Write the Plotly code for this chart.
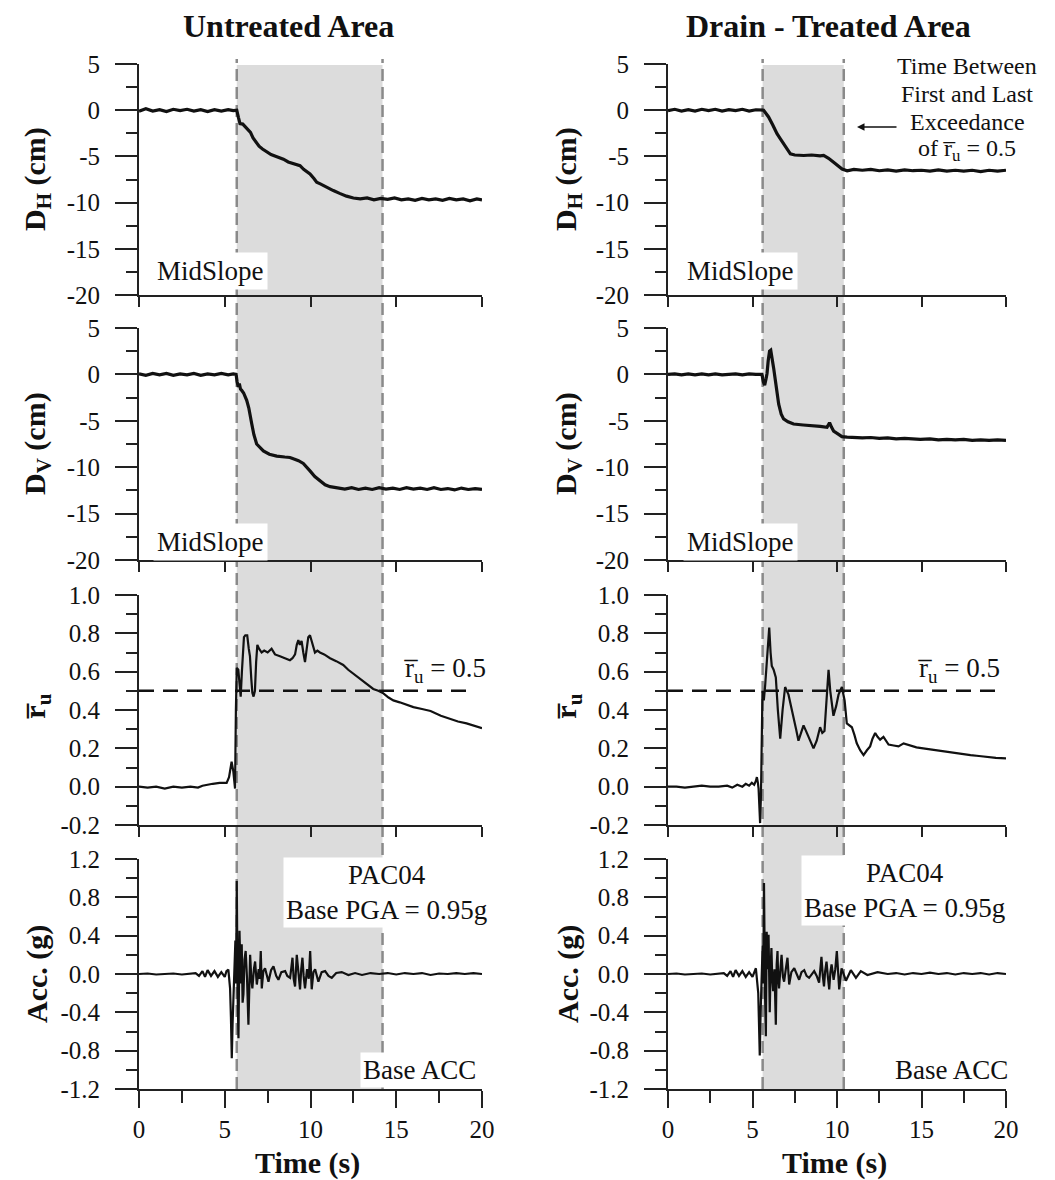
import plotly.graph_objects as go

# ---------------- data ----------------
panel_titles = ["Untreated Area", "Drain - Treated Area"]
x_ticks = [0, 5, 10, 15, 20]

# time between first and last exceedance of ru = 0.5  (start, end)
exceed_untreated = (5.7, 14.2)
exceed_treated = (5.6, 10.4)
ru_threshold = 0.5

dh_untreated = [(0, -0.1), (0.4, 0.15), (0.8, -0.1), (1.2, 0.05), (1.6, -0.15), (2.0, 0.1), (2.4, -0.05),
                (2.8, 0.1), (3.2, -0.1), (3.6, 0.05), (4.0, -0.15), (4.4, 0.05), (4.8, -0.1), (5.2, 0.05),
                (5.5, -0.05), (5.7, 0.0), (5.8, -0.8), (5.89, -1.45), (6.05, -1.5), (6.2, -1.8), (6.38, -2.2),
                (6.5, -2.4), (6.65, -3.0), (6.86, -3.6), (7.0, -3.9), (7.2, -4.2), (7.45, -4.5), (7.7, -4.8),
                (8.0, -5.0), (8.42, -5.3), (8.7, -5.6), (9.0, -5.8), (9.39, -6.0), (9.6, -6.4), (9.8, -6.7),
                (9.97, -6.9), (10.2, -7.4), (10.36, -7.8), (10.6, -8.0), (11.0, -8.4), (11.33, -8.7),
                (11.7, -9.0), (12.1, -9.3), (12.5, -9.5), (12.9, -9.6), (13.3, -9.5), (13.7, -9.7),
                (14.1, -9.55), (14.5, -9.65), (14.9, -9.5), (15.3, -9.7), (15.7, -9.6), (16.1, -9.75),
                (16.5, -9.55), (16.9, -9.7), (17.3, -9.6), (17.7, -9.75), (18.1, -9.55), (18.5, -9.7),
                (18.9, -9.6), (19.3, -9.8), (19.7, -9.6), (20.0, -9.7)]

dv_untreated = [(0, 0.05), (0.4, -0.1), (0.8, 0.1), (1.2, -0.05), (1.6, 0.1), (2.0, -0.1), (2.4, 0.05),
                (2.8, -0.05), (3.2, 0.1), (3.6, -0.1), (4.0, 0.05), (4.4, -0.05), (4.8, 0.1), (5.2, -0.05),
                (5.5, 0.05), (5.66, 0.0), (5.72, -0.8), (5.79, -1.35), (5.85, -1.0), (5.92, -1.6),
                (5.98, -1.7), (6.1, -2.0), (6.28, -2.8), (6.4, -3.6), (6.57, -5.3), (6.7, -6.5),
                (6.86, -7.5), (7.05, -7.9), (7.25, -8.25), (7.6, -8.6), (8.03, -8.8), (8.5, -8.9),
                (8.8, -8.95), (9.0, -9.1), (9.3, -9.3), (9.58, -9.6), (9.8, -10.0), (9.97, -10.4),
                (10.25, -11.0), (10.55, -11.5), (10.85, -11.9), (11.14, -12.1), (11.6, -12.2),
                (12.0, -12.35), (12.4, -12.2), (12.8, -12.4), (13.2, -12.25), (13.6, -12.4), (14.0, -12.2),
                (14.4, -12.35), (14.8, -12.25), (15.2, -12.4), (15.6, -12.2), (16.0, -12.35),
                (16.4, -12.25), (16.8, -12.4), (17.2, -12.2), (17.6, -12.4), (18.0, -12.3), (18.4, -12.45),
                (18.8, -12.25), (19.2, -12.4), (19.6, -12.3), (20.0, -12.4)]

ru_untreated = [(0, 0.0), (0.5, -0.005), (1.0, 0.0), (1.5, -0.01), (2.0, 0.0), (2.5, -0.005), (3.0, 0.0),
                (3.44, -0.005), (3.7, 0.005), (3.95, 0.01), (4.3, 0.015), (4.7, 0.02), (5.11, 0.02),
                (5.25, 0.05), (5.4, 0.13), (5.5, 0.08), (5.6, -0.01), (5.65, 0.4), (5.7, 0.62),
                (5.79, 0.61), (5.86, 0.55), (5.93, 0.47), (6.0, 0.6), (6.12, 0.78), (6.2, 0.79),
                (6.31, 0.79), (6.4, 0.72), (6.47, 0.68), (6.55, 0.56), (6.61, 0.49), (6.68, 0.47),
                (6.76, 0.5), (6.83, 0.65), (6.9, 0.74), (7.0, 0.72), (7.15, 0.70), (7.3, 0.71),
                (7.5, 0.70), (7.73, 0.72), (7.93, 0.69), (8.22, 0.68), (8.5, 0.67), (8.8, 0.66),
                (8.95, 0.67), (9.1, 0.69), (9.2, 0.74), (9.29, 0.765), (9.38, 0.74), (9.48, 0.76),
                (9.58, 0.70), (9.68, 0.65), (9.78, 0.72), (9.87, 0.78), (9.97, 0.79), (10.07, 0.76),
                (10.17, 0.72), (10.26, 0.70), (10.4, 0.71), (10.55, 0.70), (10.8, 0.69), (11.14, 0.67),
                (11.5, 0.655), (11.91, 0.635), (12.2, 0.61), (12.5, 0.59), (12.8, 0.57), (13.08, 0.55),
                (13.4, 0.53), (13.66, 0.51), (13.95, 0.50), (14.25, 0.487), (14.55, 0.465), (14.83, 0.45),
                (15.2, 0.44), (15.6, 0.426), (16.0, 0.415), (16.5, 0.405), (17.0, 0.395), (17.6, 0.37),
                (18.1, 0.355), (18.6, 0.34), (19.1, 0.33), (19.5, 0.32), (20.0, 0.305)]

acc_untreated = [(0, 0.0), (0.5, 0.005), (1.0, -0.005), (1.5, 0.0), (2.0, 0.005), (2.5, -0.005), (3.0, 0.0),
                 (3.3, 0.01), (3.5, -0.02), (3.7, 0.03), (3.85, -0.03), (4.0, 0.04), (4.2, -0.02),
                 (4.4, 0.03), (4.6, -0.03), (4.8, 0.02), (5.0, -0.03), (5.1, 0.03), (5.21, 0.045),
                 (5.31, -0.15), (5.36, -0.45), (5.41, -0.88), (5.46, -0.5), (5.51, -0.15), (5.56, 0.1),
                 (5.62, 0.35), (5.66, -0.1), (5.70, 0.97), (5.75, -0.2), (5.80, -0.67), (5.86, 0.45),
                 (5.93, -0.1), (5.99, 0.31), (6.04, -0.3), (6.09, -0.21), (6.15, 0.15), (6.22, 0.24),
                 (6.3, -0.05), (6.38, -0.53), (6.43, 0.1), (6.48, 0.2), (6.55, -0.05), (6.61, -0.15),
                 (6.7, 0.05), (6.77, 0.13), (6.87, -0.11), (6.98, 0.05), (7.04, -0.05), (7.10, 0.24),
                 (7.16, -0.15), (7.25, 0.03), (7.35, 0.06), (7.45, -0.03), (7.55, -0.08), (7.7, 0.04),
                 (7.84, 0.08), (8.0, -0.02), (8.13, -0.06), (8.3, 0.02), (8.52, 0.03), (8.65, -0.02),
                 (8.81, -0.04), (8.88, 0.06), (8.95, 0.17), (9.02, -0.05), (9.1, -0.13), (9.2, 0.2),
                 (9.3, 0.0), (9.39, -0.16), (9.46, 0.05), (9.53, 0.17), (9.6, -0.02), (9.68, -0.15),
                 (9.8, 0.05), (9.9, -0.05), (9.98, 0.24), (10.07, -0.16), (10.17, 0.02), (10.27, 0.05),
                 (10.46, -0.08), (10.65, 0.02), (10.85, 0.03), (11.05, -0.02), (11.24, -0.04), (11.5, 0.01),
                 (11.82, 0.02), (12.21, -0.01), (12.6, 0.01), (13.0, -0.01), (13.5, 0.01), (14.0, 0.0),
                 (14.5, 0.01), (15.0, -0.005), (15.5, 0.01), (16.0, 0.0), (16.5, 0.01), (17.0, -0.01),
                 (17.5, 0.005), (18.0, 0.0), (18.5, 0.01), (19.0, 0.0), (19.5, 0.01), (20.0, 0.0)]

dh_treated = [(0, -0.05), (0.4, 0.1), (0.8, -0.1), (1.2, 0.05), (1.6, -0.1), (2.0, 0.1), (2.4, -0.05),
              (2.8, 0.1), (3.2, -0.1), (3.6, 0.05), (4.0, -0.05), (4.4, 0.1), (4.8, -0.1), (5.2, 0.05),
              (5.66, 0.0), (5.8, -0.3), (5.95, -0.73), (6.2, -1.6), (6.45, -2.55), (6.65, -3.1),
              (6.84, -3.64), (7.05, -4.3), (7.24, -4.73), (7.5, -4.85), (8.03, -4.9), (8.5, -4.85),
              (9.0, -4.95), (9.21, -4.9), (9.5, -5.2), (9.8, -5.64), (10.0, -5.9), (10.3, -6.36),
              (10.6, -6.55), (11.0, -6.4), (11.5, -6.5), (12.0, -6.4), (12.5, -6.55), (13.0, -6.45),
              (13.5, -6.6), (14.0, -6.45), (14.5, -6.55), (15.0, -6.5), (15.5, -6.6), (16.0, -6.45),
              (16.5, -6.6), (17.0, -6.5), (17.5, -6.6), (18.0, -6.5), (18.5, -6.65), (19.0, -6.5),
              (19.5, -6.6), (20.0, -6.5)]

dv_treated = [(0, 0.0), (0.4, 0.05), (0.8, -0.05), (1.2, 0.05), (1.6, -0.05), (2.0, 0.05), (2.4, -0.05),
              (2.8, 0.05), (3.2, -0.05), (3.6, 0.0), (4.0, 0.05), (4.4, -0.05), (4.8, 0.05), (5.2, 0.0),
              (5.56, 0.0), (5.64, -0.8), (5.72, -1.16), (5.8, -0.5), (5.86, 0.1), (5.93, 1.5),
              (6.01, 2.5), (6.08, 2.6), (6.15, 1.9), (6.25, 0.7), (6.35, -0.6), (6.45, -2.0),
              (6.55, -3.2), (6.7, -4.3), (6.84, -4.8), (7.1, -5.1), (7.43, -5.35), (8.0, -5.45),
              (8.62, -5.5), (9.0, -5.6), (9.41, -5.7), (9.56, -5.2), (9.68, -5.7), (9.8, -6.1),
              (10.05, -6.4), (10.29, -6.7), (10.6, -6.75), (10.98, -6.8), (11.5, -6.85), (12.0, -6.8),
              (12.5, -6.9), (13.0, -6.85), (13.5, -6.95), (14.0, -6.9), (14.93, -7.0), (15.5, -6.95),
              (16.0, -7.05), (16.5, -7.0), (17.0, -7.05), (17.5, -7.0), (18.0, -7.1), (18.5, -7.05),
              (19.0, -7.1), (19.5, -7.05), (20.0, -7.1)]

ru_treated = [(0, 0.0), (0.5, 0.0), (1.0, -0.005), (1.5, 0.0), (2.0, 0.005), (2.5, 0.0), (3.0, 0.0),
              (3.5, 0.005), (3.8, -0.005), (4.1, 0.01), (4.4, 0.0), (4.6, 0.015), (4.8, 0.005),
              (4.96, 0.02), (5.1, 0.01), (5.2, 0.03), (5.26, 0.05), (5.32, 0.02), (5.36, -0.01),
              (5.45, -0.19), (5.5, -0.05), (5.59, 0.5), (5.67, 0.45), (5.75, 0.53), (5.85, 0.65),
              (5.99, 0.83), (6.07, 0.7), (6.14, 0.63), (6.25, 0.61), (6.38, 0.57), (6.5, 0.4),
              (6.64, 0.25), (6.78, 0.4), (6.93, 0.52), (7.03, 0.5), (7.13, 0.48), (7.28, 0.42),
              (7.43, 0.35), (7.58, 0.3), (7.72, 0.24), (7.87, 0.28), (8.02, 0.32), (8.17, 0.29),
              (8.31, 0.26), (8.46, 0.23), (8.61, 0.2), (8.8, 0.24), (9.0, 0.31), (9.13, 0.28),
              (9.26, 0.29), (9.38, 0.45), (9.5, 0.61), (9.6, 0.5), (9.79, 0.37), (9.95, 0.42),
              (10.09, 0.48), (10.29, 0.52), (10.45, 0.45), (10.58, 0.33), (10.73, 0.32), (10.88, 0.31),
              (11.03, 0.27), (11.17, 0.226), (11.37, 0.19), (11.57, 0.165), (11.77, 0.19), (11.96, 0.21),
              (12.1, 0.25), (12.26, 0.28), (12.4, 0.26), (12.55, 0.245), (12.75, 0.26), (13.05, 0.22),
              (13.35, 0.215), (13.64, 0.21), (13.94, 0.226), (14.3, 0.215), (14.7, 0.205), (15.1, 0.2),
              (15.5, 0.195), (15.9, 0.19), (16.4, 0.18), (16.9, 0.175), (17.4, 0.17), (17.9, 0.165),
              (18.4, 0.16), (18.9, 0.155), (19.4, 0.15), (20.0, 0.148)]

acc_treated = [(0, 0.0), (0.5, 0.005), (1.0, -0.005), (1.5, 0.0), (2.0, 0.005), (2.5, -0.005), (3.0, 0.0),
               (3.3, 0.01), (3.5, -0.02), (3.7, 0.03), (3.85, -0.03), (4.0, 0.04), (4.2, -0.02),
               (4.4, 0.03), (4.6, -0.03), (4.8, 0.02), (5.0, -0.03), (5.2, 0.06), (5.34, -0.2),
               (5.38, -0.5), (5.43, -0.85), (5.48, -0.4), (5.53, -0.07), (5.6, 0.3), (5.64, -0.1),
               (5.68, 0.95), (5.74, -0.2), (5.79, -0.65), (5.84, 0.44), (5.9, 0.05), (5.95, 0.41),
               (6.02, -0.4), (6.07, 0.05), (6.12, 0.27), (6.17, -0.05), (6.22, -0.18), (6.3, 0.05),
               (6.38, -0.53), (6.43, 0.1), (6.48, 0.24), (6.52, -0.05), (6.57, -0.15), (6.65, 0.05),
               (6.72, 0.2), (6.8, -0.03), (6.87, -0.08), (6.97, 0.05), (7.07, 0.17), (7.17, -0.11),
               (7.3, 0.02), (7.47, 0.06), (7.65, -0.02), (7.76, -0.06), (7.9, 0.02), (8.06, 0.04),
               (8.2, -0.02), (8.35, -0.04), (8.65, 0.03), (8.8, -0.02), (8.94, -0.09), (9.01, 0.05),
               (9.08, 0.18), (9.16, -0.02), (9.23, -0.13), (9.3, 0.03), (9.38, 0.13), (9.46, -0.03),
               (9.54, -0.16), (9.61, 0.02), (9.68, 0.1), (9.8, -0.06), (9.9, 0.05), (9.99, 0.24),
               (10.06, -0.02), (10.13, -0.16), (10.27, 0.06), (10.53, -0.07), (10.82, 0.04),
               (11.12, -0.04), (11.41, 0.03), (11.8, -0.01), (12.4, 0.02), (13.0, 0.0), (13.5, 0.01),
               (14.0, -0.005), (14.5, 0.01), (15.0, 0.0), (15.5, 0.015), (16.0, 0.0), (16.5, 0.01),
               (17.0, -0.005), (17.5, 0.01), (18.0, 0.0), (18.5, 0.01), (19.0, -0.005), (19.5, 0.01),
               (20.0, 0.0)]

# y-axis tick definitions per row
disp_ticks = [-20, -15, -10, -5, 0, 5]
disp_labels = ["-20", "-15", "-10", "-5", "0", "5"]
disp_minor = [-17.5, -12.5, -7.5, -2.5, 2.5]
ru_ticks = [-0.2, 0.0, 0.2, 0.4, 0.6, 0.8, 1.0]
ru_labels = ["-0.2", "0.0", "0.2", "0.4", "0.6", "0.8", "1.0"]
ru_minor = [-0.1, 0.1, 0.3, 0.5, 0.7, 0.9]
acc_ticks = [-1.2, -0.8, -0.4, 0.0, 0.4, 0.8, 1.2]
acc_labels = ["-1.2", "-0.8", "-0.4", "0.0", "0.4", "0.8", "1.2"]
acc_minor = [-1.0, -0.6, -0.2, 0.2, 0.6, 1.0]

# ---------------- layout geometry ----------------
W, H = 1055, 1180
OFF = 8  # page body margin offset in the viewer
FONT = "Liberation Serif"
AX = "#222222"


def px(x):
    return (x - OFF) / W


def py(y):
    return 1 - (y - OFF) / H


COL_X = [(139, 482), (668, 1006)]
ROW_Y = [(64, 295), (328, 560), (595, 825), (859, 1089)]

rows = [
    dict(rng=[-20, 5], tv=disp_ticks, tt=disp_labels, mv=disp_minor),
    dict(rng=[-20, 5], tv=disp_ticks, tt=disp_labels, mv=disp_minor),
    dict(rng=[-0.2, 1.0], tv=ru_ticks, tt=ru_labels, mv=ru_minor),
    dict(rng=[-1.2, 1.2], tv=acc_ticks, tt=acc_labels, mv=acc_minor),
]
series = [[dh_untreated, dh_treated], [dv_untreated, dv_treated],
          [ru_untreated, ru_treated], [acc_untreated, acc_treated]]

fig = go.Figure()
layout = dict(width=W, height=H, margin=dict(l=0, r=0, t=0, b=0, autoexpand=False),
              paper_bgcolor="white", plot_bgcolor="rgba(0,0,0,0)",
              showlegend=False, font=dict(family=FONT, size=24, color="#111"))


def ax_id(i):
    return "" if i == 1 else str(i)


for r in range(4):
    for c in range(2):
        i = r * 2 + c + 1
        xs = dict(domain=[px(COL_X[c][0]), px(COL_X[c][1])], range=[0, 20], automargin=False,
                  anchor="y" + ax_id(i), showline=True, linecolor=AX, linewidth=2,
                  showgrid=False, zeroline=False, ticks="outside", tickcolor=AX, tickwidth=2,
                  tickvals=x_ticks, ticktext=[str(v) for v in x_ticks])
        if r < 3:
            xs.update(ticklen=10, showticklabels=False)
        else:
            xs.update(ticklen=17, showticklabels=True, ticklabelstandoff=0,
                      tickfont=dict(family=FONT, size=25, color="#111"),
                      minor=dict(tickvals=[2.5, 7.5, 12.5, 17.5], ticks="outside", ticklen=12,
                                 tickwidth=2, tickcolor=AX, showgrid=False))
        ys = dict(domain=[py(ROW_Y[r][1]), py(ROW_Y[r][0])], range=rows[r]["rng"], automargin=False,
                  anchor="x" + ax_id(i), showline=True, linecolor=AX, linewidth=2,
                  showgrid=False, zeroline=False, ticks="outside", tickcolor=AX, tickwidth=2,
                  ticklen=22, tickvals=rows[r]["tv"], ticktext=rows[r]["tt"], ticklabelstandoff=10,
                  tickfont=dict(family=FONT, size=25, color="#111"),
                  minor=dict(tickvals=rows[r]["mv"], ticks="outside", ticklen=11, tickwidth=2,
                             tickcolor=AX, showgrid=False))
        layout["xaxis" + ax_id(i)] = xs
        layout["yaxis" + ax_id(i)] = ys

        if r == 2:
            fig.add_trace(go.Scatter(x=[0, 19.5], y=[ru_threshold, ru_threshold], mode="lines",
                                     line=dict(color="#111", width=2.5, dash="15px,9px"),
                                     xaxis="x" + ax_id(i), yaxis="y" + ax_id(i)))
        data = series[r][c]
        lw = 2.2 if r >= 2 else 3.2
        fig.add_trace(go.Scatter(x=[p[0] for p in data], y=[p[1] for p in data], mode="lines",
                                 line=dict(color="#111", width=lw),
                                 xaxis="x" + ax_id(i), yaxis="y" + ax_id(i)))

# shaded exceedance windows spanning all four panels
shapes = []
for c, (t0, t1) in enumerate([exceed_untreated, exceed_treated]):
    xr = "x" + ax_id(c + 1)
    shapes.append(dict(type="rect", xref=xr, yref="paper", x0=t0, x1=t1,
                       y0=py(1089), y1=py(65), fillcolor="#dcdcdc", line=dict(width=0),
                       layer="below"))
    for t in (t0, t1):
        shapes.append(dict(type="line", xref=xr, yref="paper", x0=t, x1=t,
                           y0=py(1089), y1=py(59), line=dict(color="#8a8a8a", width=2.5,
                                                             dash="12px,6px"),
                           layer="below"))
layout["shapes"] = shapes

ann = []


def add_text(text, x, y, size=26, bold=False, angle=0, bg=None, xanchor="center", pad=2):
    d = dict(text=("<b>%s</b>" % text) if bold else text, x=px(x), y=py(y), xref="paper",
             yref="paper", showarrow=False, xanchor=xanchor, yanchor="middle",
             font=dict(family=FONT, size=size, color="#111"), textangle=angle)
    if bg:
        d.update(bgcolor=bg, borderpad=pad)
    ann.append(d)


add_text(panel_titles[0], 288, 26, size=32, bold=True)
add_text(panel_titles[1], 828, 26, size=32, bold=True)

for c, xc in enumerate([37, 568]):
    add_text("D<sub>H</sub> (cm)", xc, 179, size=30, bold=True, angle=-90)
    add_text("D<sub>V</sub> (cm)", xc, 444, size=30, bold=True, angle=-90)
    add_text("r\u0305<sub>u</sub>", xc, 706, size=30, bold=True, angle=-90)
    add_text("Acc. (g)", xc, 974, size=30, bold=True, angle=-90)

for xc in (307, 834):
    add_text("Time (s)", xc, 1163, size=30, bold=True)

# MidSlope labels
for xc in (210, 740):
    add_text("MidSlope", xc, 271, size=27, bg="white", pad=3)
    add_text("MidSlope", xc, 542, size=27, bg="white", pad=3)

# ru = 0.5 labels
add_text("r\u0305<sub>u</sub> = 0.5", 445, 670, size=27)
add_text("r\u0305<sub>u</sub> = 0.5", 959, 670, size=27)

# PAC04 labels
add_text("PAC04<br>Base PGA = 0.95g", 386, 892, size=27, bg="white", pad=2)
add_text("PAC04<br>Base PGA = 0.95g", 904, 890, size=27, bg="white", pad=2)

# Base ACC
add_text("Base ACC", 419, 1070, size=27, bg="white", pad=2)
add_text("Base ACC", 951, 1070, size=27, bg="white", pad=2)

# explanatory note
for txt, yy in [("Time Between", 66), ("First and Last", 94), ("Exceedance", 122),
                ("of r\u0305<sub>u</sub> = 0.5", 150)]:
    add_text(txt, 967, yy, size=24)
ann.append(dict(text="", x=px(857), y=py(127), xref="paper", yref="paper", showarrow=True,
                ax=41, ay=0, arrowhead=2, arrowsize=1, arrowwidth=1.5, arrowcolor="#111"))

layout["annotations"] = ann
fig.update_layout(**layout)
fig.write_html("out.html")
